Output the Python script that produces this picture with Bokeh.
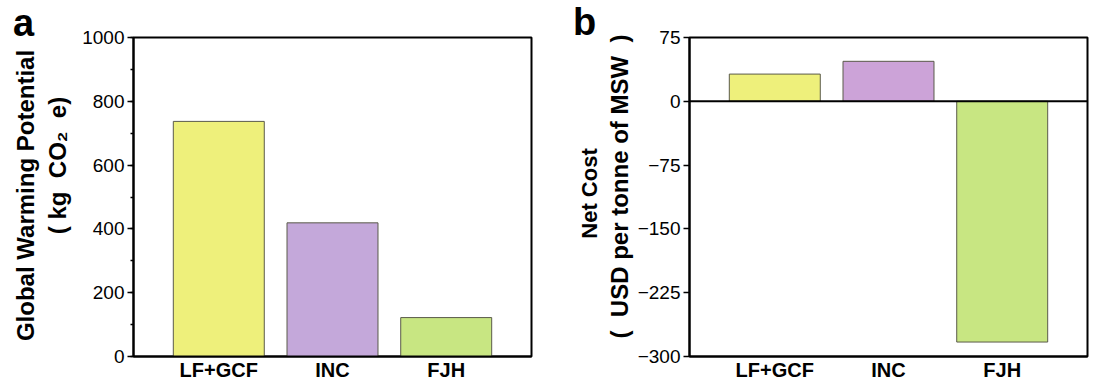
import math
from bokeh.plotting import figure
from bokeh.layouts import row
from bokeh.models import Range1d, FixedTicker, SingleIntervalTicker, Span, ColumnDataSource
from bokeh.core.properties import value
from bokeh.embed import file_html
from bokeh.resources import INLINE

# ---- data ----
categories = ["LF+GCF", "INC", "FJH"]
gwp_values = [737, 419, 122]          # kg CO2 e
cost_values = [32, 47, -283]          # USD per tonne of MSW
colors_a = ["#EEF07B", "#C4A8DA", "#C8E682"]
colors_b = ["#EEF07B", "#CCA3D8", "#C8E682"]
a_ticks = [0, 200, 400, 600, 800, 1000]
b_ticks = [75, 0, -75, -150, -225, -300]
a_ylabel = ["Global Warming Potential", "(\u00a0kg\u00a0\u00a0CO\u2082\u00a0\u00a0e)"]
b_ylabel = ["Net Cost", "(\u00a0\u00a0USD per tonne of MSW\u00a0\u00a0)"]

FONT = "Liberation Sans"
H = 380
xpos = list(range(1, len(categories) + 1))


def base_fig(yr, left_border, right_border):
    p = figure(frame_width=398, frame_height=319,
               min_border_left=left_border, min_border_right=right_border,
               min_border_top=37, min_border_bottom=H - 37 - 319,
               x_range=Range1d(0.25, 3.75), y_range=yr,
               output_backend="svg", toolbar_location=None)
    p.xgrid.visible = False
    p.ygrid.visible = False
    p.outline_line_color = "black"
    p.outline_line_width = 2
    p.outline_line_alpha = 1
    p.background_fill_color = "white"
    p.border_fill_color = "white"
    xa = p.xaxis[0]
    xa.ticker = FixedTicker(ticks=xpos)
    xa.major_label_overrides = {x: c for x, c in zip(xpos, categories)}
    xa.major_tick_out = 0
    xa.major_tick_in = 0
    xa.minor_tick_out = 0
    xa.minor_tick_in = 0
    xa.axis_line_width = 2
    xa.major_label_text_font = FONT
    xa.major_label_text_font_style = "bold"
    xa.major_label_text_font_size = "20px"
    xa.major_label_text_color = "black"
    xa.major_label_standoff = 2
    ya = p.yaxis[0]
    ya.axis_line_width = 2
    ya.major_tick_out = 6
    ya.major_tick_in = 0
    ya.major_tick_line_width = 1.5
    ya.minor_tick_out = 3
    ya.minor_tick_in = 0
    ya.minor_tick_line_width = 1.5
    ya.major_label_text_font = FONT
    ya.major_label_text_font_size = "19px"
    ya.major_label_text_color = "black"
    ya.major_label_standoff = 3
    return p


def label_fig(width, letter, lines, line_x, line_y, sizes, letter_xy):
    f = figure(width=width, height=H, min_border=0,
               min_border_left=0, min_border_right=0,
               min_border_top=0, min_border_bottom=0,
               x_range=Range1d(0, width), y_range=Range1d(0, H),
               x_axis_type=None, y_axis_type=None, title=None,
               output_backend="svg", toolbar_location=None)
    if "frame_align" in f.properties():
        f.frame_align = False
    f.outline_line_color = None
    f.xgrid.visible = False
    f.ygrid.visible = False
    f.background_fill_color = "white"
    f.border_fill_color = "white"
    f.text(x=[letter_xy[0]], y=[H - letter_xy[1]], text=[letter],
           text_font=value(FONT), text_font_style="bold", text_font_size="38px",
           text_align="center", text_baseline="middle", text_color="black")
    for lx, ly, t, s in zip(line_x, line_y, lines, sizes):
        f.text(x=[lx], y=[H - ly], text=[t], angle=math.pi / 2,
               text_font=value(FONT), text_font_style="bold", text_font_size=s,
               text_align="center", text_baseline="middle", text_color="black")
    return f


# ---- panel a ----
la = label_fig(74, "a", a_ylabel, [25, 57], [195, 165], ["24px", "24px"], (23, 22))
pa = base_fig(Range1d(0, 1000), 133 - 74, 29)
pa.yaxis[0].ticker = SingleIntervalTicker(interval=200, num_minor_ticks=2)
src_a = ColumnDataSource(dict(x=xpos, top=gwp_values, color=colors_a))
pa.vbar(x="x", top="top", bottom=0, width=0.8, fill_color="color", source=src_a,
        line_color="#5a5a4a", line_width=1)

# ---- panel b ----
lb = label_fig(74, "b", b_ylabel, [29, 59], [193, 186], ["22px", "24px"], (24, 21))
pb = base_fig(Range1d(-300, 75), 688 - 634, 8)
pb.yaxis[0].ticker = FixedTicker(ticks=b_ticks, minor_ticks=[])
pb.yaxis[0].major_label_overrides = {t: str(t).replace("-", "\u2212") for t in b_ticks}
src_b = ColumnDataSource(dict(x=xpos, top=cost_values, color=colors_b))
pb.vbar(x="x", top="top", bottom=0, width=0.8, fill_color="color", source=src_b,
        line_color="#5a5a4a", line_width=1)
pb.add_layout(Span(location=0, dimension="width", line_color="black", line_width=2))

layout = row(la, pa, lb, pb, spacing=0)
open("out.html", "w").write(file_html(layout, INLINE))
